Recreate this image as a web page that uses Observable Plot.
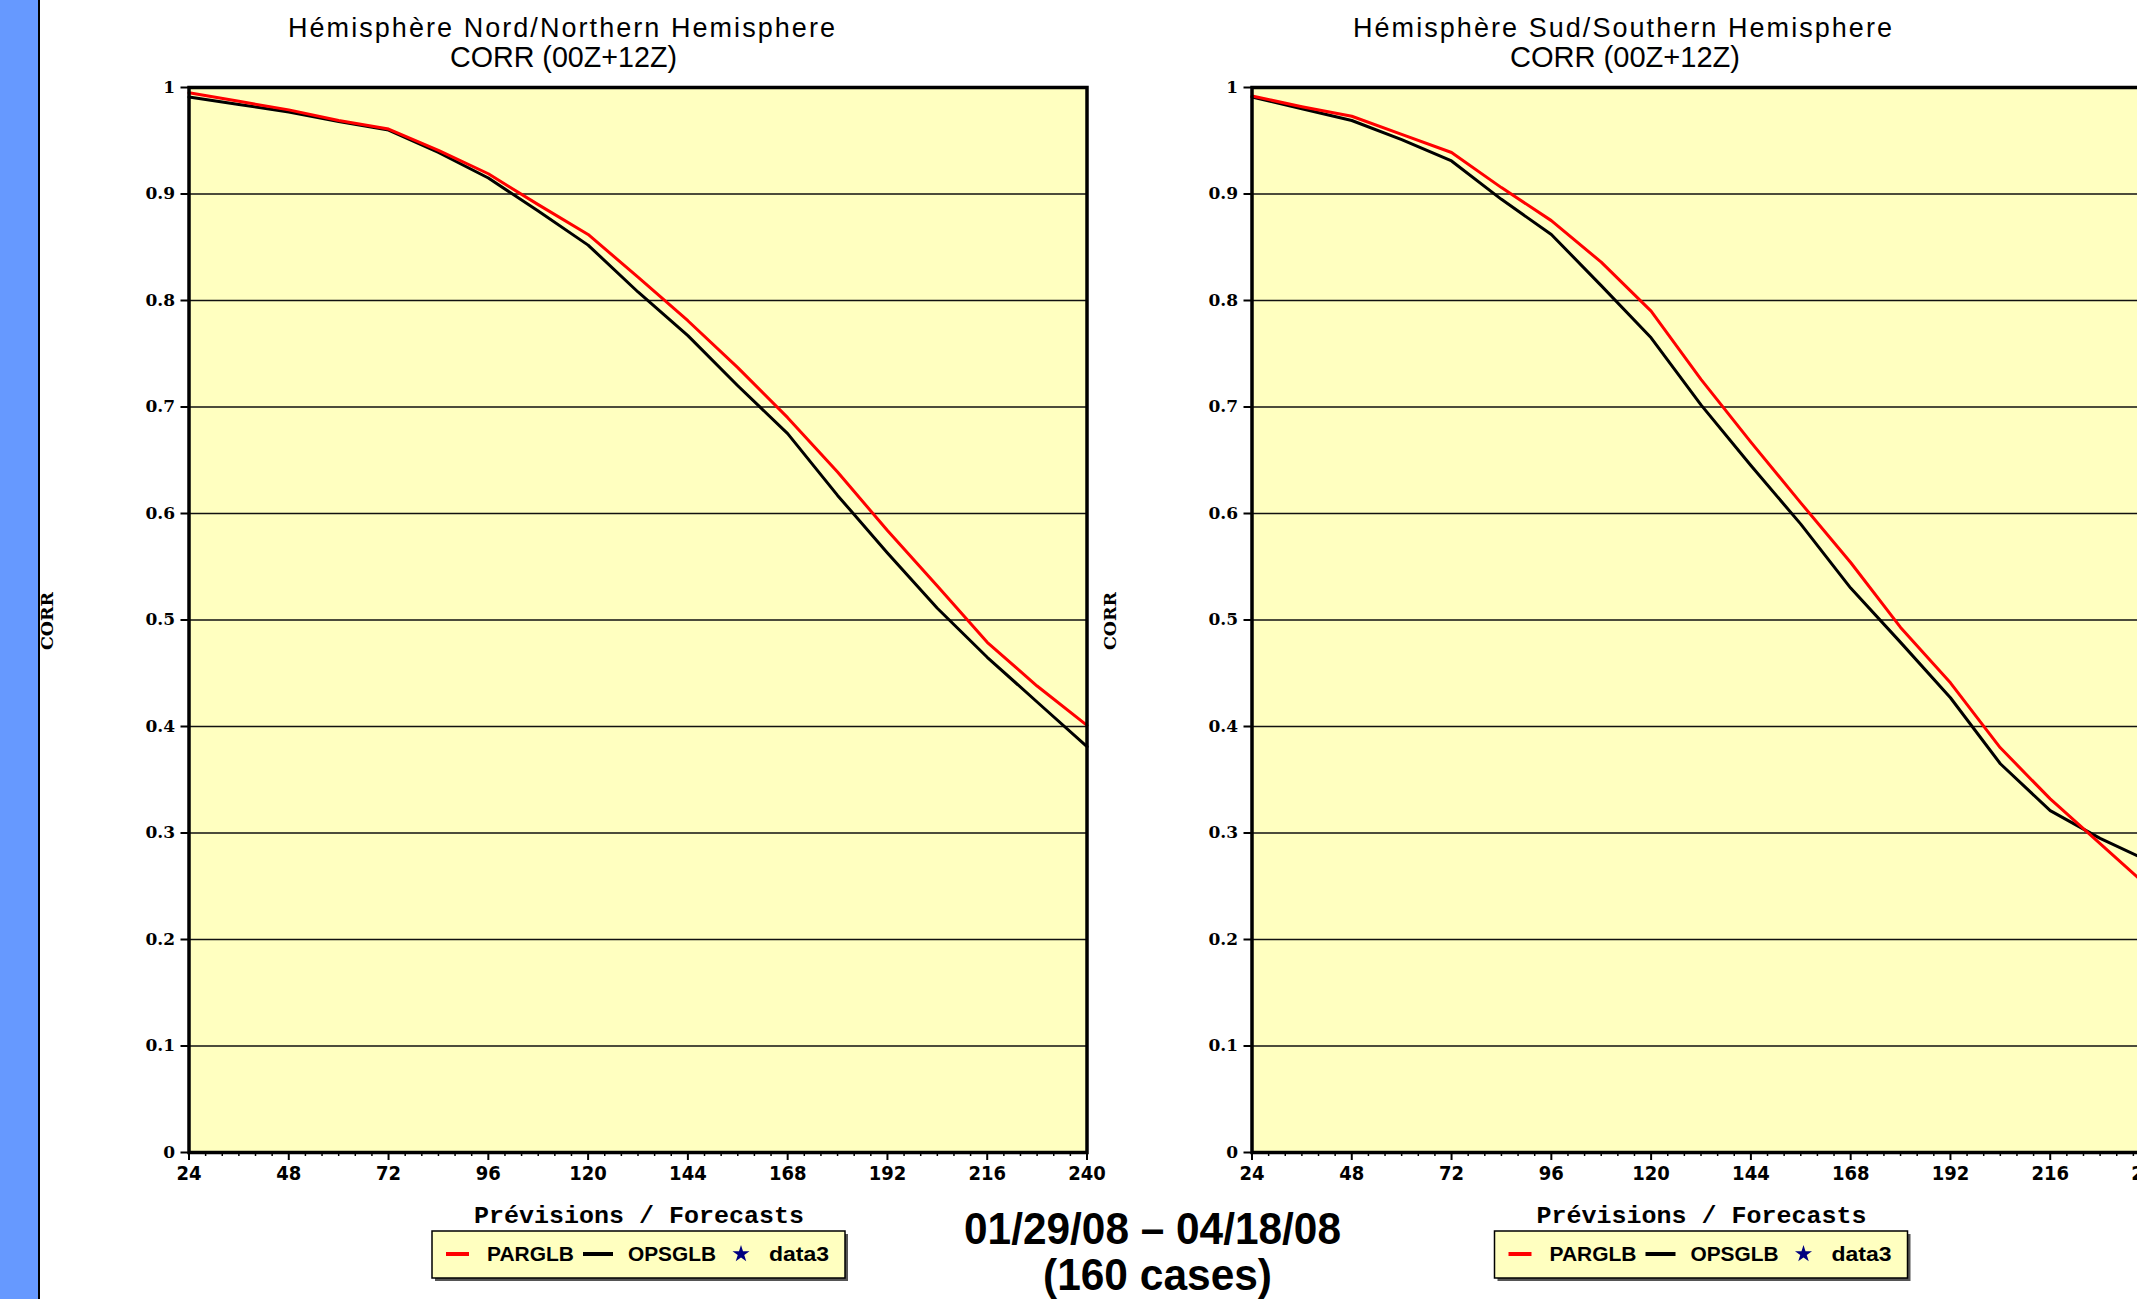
<!DOCTYPE html>
<html>
<head>
<meta charset="utf-8">
<script src="https://cdn.jsdelivr.net/npm/d3@7"></script>
<script src="https://cdn.jsdelivr.net/npm/@observablehq/plot@0.6"></script>
<style>
  html, body { margin: 0; padding: 0; background: #fff; overflow: hidden; }
  #page { position: relative; width: 2137px; height: 1299px; overflow: hidden; background: #fff; }
  #bar { position: absolute; left: 0; top: 0; width: 38px; height: 1299px; background: #6699ff; }
  #barline { position: absolute; left: 38px; top: 0; width: 2px; height: 1299px; background: #000; }
  .chart { position: absolute; top: 0; }
  #overlay { position: absolute; left: 0; top: 0; pointer-events: none; }
</style>
</head>
<body>
<div id="page">
  <div id="bar"></div>
  <div id="barline"></div>
  <div id="left" class="chart" style="left:0px"></div>
  <div id="right" class="chart" style="left:1062.5px"></div>
  <svg id="overlay" width="2137" height="1299"></svg>
</div>
<script>
// ---- data ----
const hours = [24, 36, 48, 60, 72, 84, 96, 108, 120, 132, 144, 156, 168, 180, 192, 204, 216, 228, 240];
const models = ["OPSGLB", "PARGLB"];
const modelColors = ["#000000", "#ff0000"];
// Northern Hemisphere
const nhPARGLB = [0.995, 0.987, 0.979, 0.969, 0.961, 0.941, 0.919, 0.890, 0.862, 0.822, 0.781, 0.737, 0.690, 0.639, 0.584, 0.532, 0.479, 0.438, 0.401];
const nhOPSGLB = [0.991, 0.984, 0.977, 0.968, 0.960, 0.939, 0.915, 0.884, 0.852, 0.808, 0.767, 0.720, 0.675, 0.617, 0.563, 0.511, 0.465, 0.423, 0.381];
// Southern Hemisphere
const shPARGLB = [0.992, 0.982, 0.973, 0.956, 0.939, 0.906, 0.875, 0.836, 0.790, 0.726, 0.667, 0.610, 0.554, 0.493, 0.441, 0.380, 0.332, 0.290, 0.248];
const shOPSGLB = [0.991, 0.980, 0.969, 0.951, 0.931, 0.895, 0.862, 0.814, 0.765, 0.702, 0.645, 0.590, 0.530, 0.479, 0.427, 0.365, 0.321, 0.295, 0.273];
// axes
const xTicks = [24, 48, 72, 96, 120, 144, 168, 192, 216, 240];
const xMinor = [28, 32, 36, 40, 44, 52, 56, 60, 64, 68, 76, 80, 84, 88, 92, 100, 104, 108, 112, 116, 124, 128, 132, 136, 140, 148, 152, 156, 160, 164, 172, 176, 180, 184, 188, 196, 200, 204, 208, 212, 220, 224, 228, 232, 236];
const yTicks = [0, 0.1, 0.2, 0.3, 0.4, 0.5, 0.6, 0.7, 0.8, 0.9, 1];
const yGrid = [0.1, 0.2, 0.3, 0.4, 0.5, 0.6, 0.7, 0.8, 0.9];
// texts
const titlesNH = ["Hémisphère Nord/Northern Hemisphere", "CORR (00Z+12Z)"];
const titlesSH = ["Hémisphère Sud/Southern Hemisphere", "CORR (00Z+12Z)"];
const xLabel = "Prévisions / Forecasts";
const yLabel = "CORR";
const legendNames = ["PARGLB", "OPSGLB", "data3"];
const dateRange = "01/29/08 – 04/18/08";
const cases = "(160 cases)";

const plotBg = "#ffffc0";

function chart(par, ops) {
  const data = [
    ...hours.map((h, i) => ({hour: h, value: ops[i], model: "OPSGLB"})),
    ...hours.map((h, i) => ({hour: h, value: par[i], model: "PARGLB"}))
  ];
  return Plot.plot({
    width: 1100,
    height: 1299,
    marginLeft: 188.5,
    marginRight: 13.5,
    marginTop: 87,
    marginBottom: 147,
    style: {background: "transparent", overflow: "visible", maxWidth: "none", color: "#000"},
    x: {domain: [24, 240], axis: null},
    y: {domain: [0, 1], axis: null},
    color: {domain: models, range: modelColors},
    marks: [
      Plot.frame({fill: plotBg}),
      Plot.ruleY(yGrid, {stroke: "#111", strokeWidth: 1.7}),
      Plot.line(data, {x: "hour", y: "value", stroke: "model", z: "model", strokeWidth: 3}),
      Plot.frame({stroke: "#000", strokeWidth: 3.5}),
      Plot.axisX({ticks: xMinor, tickSize: 4, tickFormat: () => "", label: null, strokeWidth: 1.5}),
      Plot.axisX({ticks: xTicks, tickSize: 8, tickPadding: 5, label: null, tickFormat: d => String(d),
        fontSize: 20, fontWeight: "bold", fontFamily: "'DejaVu Sans Condensed', 'DejaVu Sans', sans-serif", strokeWidth: 2}),
      Plot.axisY({ticks: yTicks, tickSize: 8, tickPadding: 6, label: null, tickFormat: d => String(d),
        fontSize: 17, fontWeight: "bold", fontFamily: "'DejaVu Serif', serif", strokeWidth: 2})
    ]
  });
}

document.getElementById("left").appendChild(chart(nhPARGLB, nhOPSGLB));
document.getElementById("right").appendChild(chart(shPARGLB, shOPSGLB));

// ---- overlay texts & legends ----
const ov = d3.select("#overlay");
function txt(x, y, s, o) {
  const t = ov.append("text")
    .attr("x", x).attr("y", y)
    .attr("font-size", o.size)
    .attr("font-family", o.family || "'Liberation Sans', Arial, sans-serif")
    .attr("font-weight", o.weight || "normal")
    .attr("fill", o.fill || "#000")
    .text(s);
  if (o.len) t.attr("textLength", o.len).attr("lengthAdjust", o.adjust || "spacingAndGlyphs");
  if (o.rotate) t.attr("transform", `rotate(${o.rotate},${x},${y})`);
  return t;
}

function panelTexts(dx, titles, t1x, t1len, t2x, t2len) {
  txt(t1x, 37, titles[0], {size: 27, len: t1len, adjust: "spacing"});
  txt(t2x, 67, titles[1], {size: 29, len: t2len});
  txt(474 + dx, 1223, xLabel, {size: 24, weight: "bold", family: "'Liberation Mono', 'DejaVu Sans Mono', monospace", len: 330});
  txt(53 + dx, 650, yLabel, {size: 16, weight: "bold", family: "'DejaVu Serif', serif", len: 58, rotate: -90});
  // legend
  const lx = 432 + dx, ly = 1231, lw = 413, lh = 47;
  ov.append("rect").attr("x", lx + 3).attr("y", ly + 3).attr("width", lw).attr("height", lh).attr("fill", "#555");
  ov.append("rect").attr("x", lx).attr("y", ly).attr("width", lw).attr("height", lh)
    .attr("fill", plotBg).attr("stroke", "#000").attr("stroke-width", 1.5);
  const cy = 1254;
  ov.append("line").attr("x1", 446 + dx).attr("x2", 469 + dx).attr("y1", cy).attr("y2", cy)
    .attr("stroke", modelColors[1]).attr("stroke-width", 4);
  txt(487 + dx, 1261, legendNames[0], {size: 20, weight: "bold", len: 87});
  ov.append("line").attr("x1", 583 + dx).attr("x2", 613 + dx).attr("y1", cy).attr("y2", cy)
    .attr("stroke", modelColors[0]).attr("stroke-width", 4);
  txt(628 + dx, 1261, legendNames[1], {size: 20, weight: "bold", len: 88});
  ov.append("path").attr("transform", `translate(${741 + dx},${cy})`)
    .attr("d", d3.symbol(d3.symbolStar, 90)()).attr("fill", "#000080");
  txt(769 + dx, 1261, legendNames[2], {size: 20, weight: "bold", len: 60});
}
panelTexts(0, titlesNH, 288, 547, 450, 227);
panelTexts(1062.5, titlesSH, 1353, 539, 1510, 230);

txt(964, 1244, dateRange, {size: 44, weight: "bold", len: 377});
txt(1043, 1290, cases, {size: 44, weight: "bold", len: 229});
</script>
</body>
</html>
